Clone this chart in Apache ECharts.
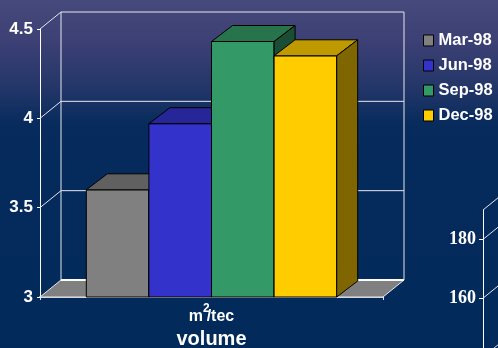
<!DOCTYPE html>
<html>
<head>
<meta charset="utf-8">
<script src="https://cdn.jsdelivr.net/npm/echarts@6/dist/echarts.min.js"></script>
<style>
  html, body { margin: 0; padding: 0; background: #012a5a; }
  #chart {
    width: 498px; height: 348px;
    background: linear-gradient(to bottom, #46497b 0%, #3c4074 12%, #243669 25%, #062b5c 36%, #012a5a 100%);
  }
</style>
</head>
<body>
<div id="chart"></div>
<script>
// Categories, series and axis ticks
const categories = ['m²/tec'];
const seriesNames = ['Mar-98', 'Jun-98', 'Sep-98', 'Dec-98'];
const mar98 = [3.60];
const jun98 = [3.97];
const sep98 = [4.43];
const dec98 = [4.35];
const yTicks = [3, 3.5, 4, 4.5];
const sideTicks = [140, 160, 180, 190];
const sideLabels = [160, 180];

const seriesValues = [mar98, jun98, sep98, dec98];
// front / top / side face colours of each box
const faceColors = [
  ['#808080', '#606060', '#4d4d4d'],
  ['#3333cc', '#262699', '#1a1a66'],
  ['#339966', '#26734c', '#1a4d33'],
  ['#ffcc00', '#bf9900', '#806600']
];

const Y_MIN = 3, Y_MAX = 4.5;
const DX = 21, DY = -17;      // depth offset of the 3-D walls
const BDX = 21, BDY = -16;    // depth offset of the boxes
const CAT_GAP = 0.27;
const LINE = '#e6e6ee';

function boxRenderer(idx) {
  return function (params, api) {
    const band = api.size([1, 0])[0];
    const inner = band * (1 - CAT_GAP);
    const w = inner / seriesNames.length;
    const top = api.coord([api.value(0), api.value(1)]);
    const base = api.coord([api.value(0), Y_MIN]);
    const x0 = top[0] - inner / 2 + idx * w;
    const x1 = x0 + w;
    const yt = top[1], yb = base[1];
    const c = faceColors[idx];
    const edge = { stroke: '#000', lineWidth: 1, lineJoin: 'round' };
    return {
      type: 'group',
      children: [
        { type: 'polygon', shape: { points: [[x0, yb], [x0, yt], [x1, yt], [x1, yb]] },
          style: Object.assign({ fill: c[0] }, edge) },
        { type: 'polygon', shape: { points: [[x0, yt], [x0 + BDX, yt + BDY], [x1 + BDX, yt + BDY], [x1, yt]] },
          style: Object.assign({ fill: c[1] }, edge) },
        { type: 'polygon', shape: { points: [[x1, yt], [x1 + BDX, yt + BDY], [x1 + BDX, yb + BDY], [x1, yb]] },
          style: Object.assign({ fill: c[2] }, edge) }
      ]
    };
  };
}

// Back wall, floor and the slanted tick connectors
function frameRenderer(minVal, maxVal, withFloor) {
  return function (params, api) {
    const cs = params.coordSys;
    const v = api.value(1);
    const y = api.coord([0, v])[1];
    const xl = cs.x, xr = cs.x + cs.width;
    const children = [];
    if (v === minVal && withFloor) {
      const yTop = api.coord([0, maxVal])[1];
      children.push({
        type: 'polygon',
        shape: { points: [[xl, y], [xl + DX, y + DY], [xr + DX, y + DY], [xr, y]] },
        style: { fill: '#808080', stroke: LINE, lineWidth: 1 }
      });
      children.push({ type: 'line', shape: { x1: xl + DX, y1: y + DY, x2: xr + DX, y2: y + DY },
        style: { stroke: '#ffffff', lineWidth: 2 } });
      children.push({ type: 'line', shape: { x1: xl + DX, y1: yTop + DY, x2: xl + DX, y2: y + DY },
        style: { stroke: LINE, lineWidth: 1 } });
      children.push({ type: 'line', shape: { x1: xr + DX, y1: yTop + DY, x2: xr + DX, y2: y + DY },
        style: { stroke: LINE, lineWidth: 1 } });
    } else {
      children.push({ type: 'polyline',
        shape: { points: [[xl, y], [xl + DX, y + DY], [xr + DX, y + DY]] },
        style: { stroke: LINE, lineWidth: 1, fill: null } });
    }
    return { type: 'group', children: children };
  };
}

const chart = echarts.init(document.getElementById('chart'), null, { renderer: 'canvas' });

const series = [
  {
    type: 'custom', name: 'frame', xAxisIndex: 0, yAxisIndex: 0,
    renderItem: frameRenderer(Y_MIN, Y_MAX, true),
    data: yTicks.map(v => [0, v]), encode: { x: 0, y: 1 }, silent: true, z: 1
  },
  {
    type: 'custom', name: 'frame2', xAxisIndex: 1, yAxisIndex: 1,
    renderItem: frameRenderer(140, 190, false),
    data: sideTicks.map(v => [0, v]), encode: { x: 0, y: 1 }, silent: true, z: 1
  }
];
seriesNames.forEach((name, i) => {
  series.push({
    type: 'custom', name: name, xAxisIndex: 0, yAxisIndex: 0,
    renderItem: boxRenderer(i),
    itemStyle: { color: faceColors[i][0] },
    data: seriesValues[i].map((v, k) => [k, v]),
    encode: { x: 0, y: 1 }, z: 3
  });
});

chart.setOption({
  backgroundColor: 'transparent',
  animation: false,
  textStyle: { fontFamily: 'Liberation Sans, Arial, sans-serif' },
  grid: [
    { left: 40, right: 115, top: 29, bottom: 51, containLabel: false, outerBoundsMode: 'none' },
    { left: 483, width: 200, top: 210, bottom: -9, containLabel: false, outerBoundsMode: 'none' }
  ],
  legend: {
    orient: 'vertical', left: 423, top: 32, padding: 0,
    itemWidth: 10, itemHeight: 11, itemGap: 8,
    icon: 'rect',
    data: seriesNames,
    itemStyle: { borderColor: '#000', borderWidth: 1 },
    textStyle: { color: '#ffffff', fontWeight: 'bold', fontSize: 16.5, lineHeight: 17,
      fontFamily: 'Liberation Sans, Arial, sans-serif' }
  },
  xAxis: [
    {
      type: 'category', gridIndex: 0, data: categories,
      axisLine: { show: true, lineStyle: { color: '#c8c8c8', width: 2 } },
      axisTick: { show: true, length: 3, lineStyle: { color: '#e6e6e6' } },
      axisLabel: {
        margin: 6,
        formatter: () => '{a|m}{s|2}{a|/tec}',
        rich: {
          a: { color: '#fff', fontWeight: 'bold', fontSize: 16, lineHeight: 22, verticalAlign: 'bottom' },
          s: { color: '#fff', fontWeight: 'bold', fontSize: 12, lineHeight: 22, verticalAlign: 'top', padding: [0, -3, 0, 0] }
        }
      },
      name: 'volume', nameLocation: 'middle', nameGap: 30,
      nameTextStyle: { color: '#fff', fontWeight: 'bold', fontSize: 20 }
    },
    { type: 'category', gridIndex: 1, data: categories, show: false }
  ],
  yAxis: [
    {
      type: 'value', gridIndex: 0, min: Y_MIN, max: Y_MAX, interval: 0.5,
      axisLine: { show: true, lineStyle: { color: '#ffffff', width: 1 } },
      axisTick: { show: true, length: 3, lineStyle: { color: '#ffffff' } },
      splitLine: { show: false },
      axisLabel: { color: '#ffffff', fontWeight: 'bold', fontSize: 17, margin: 7 }
    },
    {
      type: 'value', gridIndex: 1, min: 140, max: 190,
      axisLine: { show: true, lineStyle: { color: '#ffffff', width: 1 } },
      axisTick: { show: true, length: 4, customValues: [140, 160, 180], lineStyle: { color: '#ffffff' } },
      splitLine: { show: false },
      axisLabel: { customValues: sideLabels, color: '#ffffff', fontWeight: 'bold', fontSize: 18,
        margin: 7, fontFamily: 'Liberation Serif, Times New Roman, serif' }
    }
  ],
  series: series
});
</script>
</body>
</html>
